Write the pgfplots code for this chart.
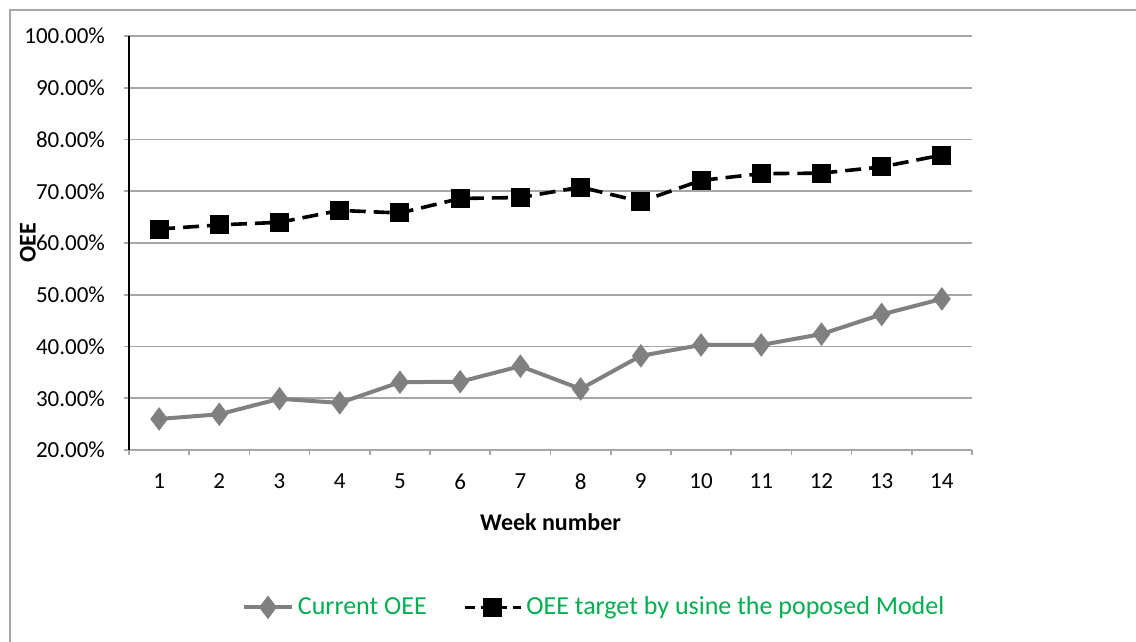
\documentclass[border=0pt]{standalone}
\usepackage{pgfplots}
\pgfplotsset{compat=1.18}
\usepackage{fontspec}
\setmainfont{Carlito}
\definecolor{legendgreen}{HTML}{00B050}
\definecolor{gridgrey}{HTML}{A6A6A6}
\definecolor{seriesgrey}{HTML}{808080}
\pgfplotsset{
  greylegend/.style={legend image code/.code={\draw[seriesgrey,line width=2pt] (0pt,0pt) -- (24pt,0pt); \draw[##1,solid] plot coordinates {(12pt,0pt)};}},
  dashlegend/.style={legend image code/.code={\draw[##1,dash pattern=on 5pt off 3pt] (0pt,0pt) -- (14pt,0pt) -- (28pt,0pt); \draw[##1,solid] plot coordinates {(14pt,0pt)};}},
}
\begin{document}
\begin{tikzpicture}
\path[use as bounding box] (0pt,0pt) rectangle (568pt,-321pt);
\draw[gray!70,line width=1pt] (5pt,-330pt) -- (5pt,-5pt) -- (570pt,-5pt);
\begin{axis}[
  at={(64.5pt,-225pt)}, anchor=south west,
  scale only axis, width=421.5pt, height=207pt,
  xmin=0.5, xmax=14.5, ymin=20, ymax=100,
  xtick={1,...,14}, minor xtick={0.5,1.5,...,14.5},
  ytick={20,30,...,100},
  yticklabel={\pgfmathprintnumber[fixed,fixed zerofill,precision=2]{\tick}\%},
  /pgf/number format/assume math mode=true,
  ymajorgrids, major grid style={gridgrey,line width=0.8pt},
  axis x line*=bottom, axis y line*=left,
  x axis line style={gridgrey,line width=0.8pt,-},
  y axis line style={black,line width=0.8pt,-},
  major x tick style={draw=none},
  minor x tick style={gridgrey,line width=0.8pt},
  y tick style={gridgrey,line width=0.8pt},
  tick align=outside, major tick length=2.5pt, minor tick length=2.5pt,
  ticklabel style={font=\fontsize{11.5}{13}\selectfont},
  yticklabel style={xshift=-6pt},
  xticklabel style={yshift=-6pt},
  xlabel={\textbf{Week number}},
  xlabel style={font=\fontsize{12}{14}\selectfont, at={(axis description cs:0.5,-0.174)}, anchor=center},
  ylabel={\textbf{OEE}},
  ylabel style={font=\fontsize{12}{14}\selectfont, at={(axis description cs:-0.12,0.5)}, anchor=center},
  clip=false,
  legend style={draw=none, at={(0.553,-0.38)}, anchor=center, legend columns=2,
    font=\fontsize{13}{15}\selectfont, text=legendgreen,
    /tikz/every even column/.append style={column sep=16pt}},
  legend cell align=left,
]
\addplot[seriesgrey, line width=2pt, mark=diamond*, mark size=5.5pt,
  mark options={solid,fill=seriesgrey,draw=seriesgrey,line width=0.5pt}, greylegend]
  coordinates {(1,26.0) (2,26.9) (3,29.9) (4,29.1) (5,33.1) (6,33.2) (7,36.2) (8,31.8) (9,38.2) (10,40.3) (11,40.3) (12,42.4) (13,46.2) (14,49.2)};
\addlegendentry{Current OEE}
\addplot[black, line width=1.8pt, dash pattern=on 8pt off 4pt, mark=square*, mark size=4.5pt,
  mark options={solid,fill=black,line width=0.5pt}, dashlegend]
  coordinates {(1,62.7) (2,63.5) (3,64.0) (4,66.3) (5,65.8) (6,68.6) (7,68.8) (8,70.8) (9,68.0) (10,72.1) (11,73.4) (12,73.5) (13,74.7) (14,77.0)};
\addlegendentry{OEE target by usine the poposed Model}
\end{axis}
\end{tikzpicture}
\end{document}
